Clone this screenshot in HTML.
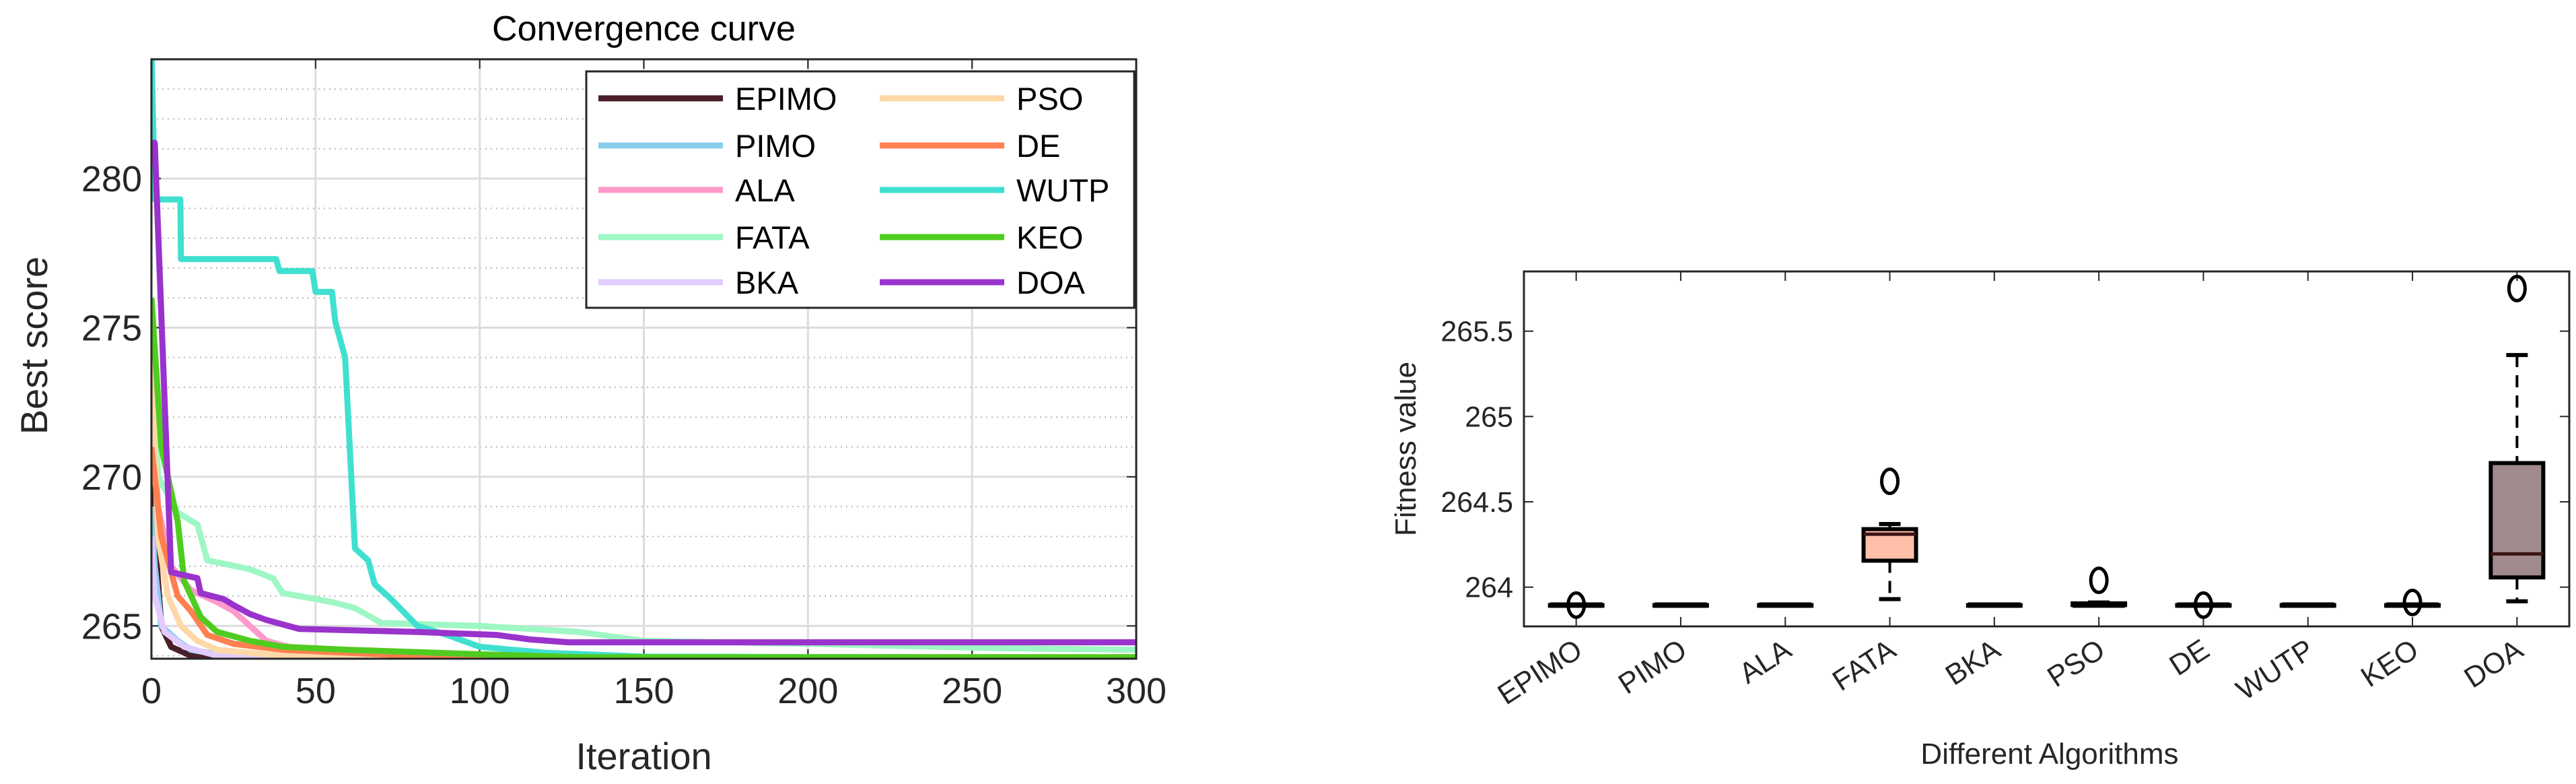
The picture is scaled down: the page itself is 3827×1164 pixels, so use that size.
<!DOCTYPE html>
<html><head><meta charset="utf-8"><style>
html,body{margin:0;padding:0;background:#fff;}
svg{display:block;font-family:"Liberation Sans",Arial,sans-serif;}
</style></head><body>
<svg id="fig" width="3827" height="1164" viewBox="0 0 3827 1164" xmlns="http://www.w3.org/2000/svg">
<rect width="3827" height="1164" fill="#fff"/>
<defs><clipPath id="clipL"><rect x="225" y="88" width="1463" height="890"/></clipPath></defs>
<g id="left"></g>
<g id="right"></g>
</svg>
<script>
// ---- Convergence data ----
const convNames = ["EPIMO","PIMO","ALA","FATA","BKA","PSO","DE","WUTP","KEO","DOA"];
const convColors = ["#4a1f2a","#88ccee","#ff99cc","#9ef7c4","#e2cbff","#ffd8a8","#ff8050","#40e0d0","#50cc20","#9933cc"];
const iterEPIMO = [0,1,3,6,12,20,50,300];
const valEPIMO  = [272.3,268,265,264.3,264.0,263.92,263.9,263.9];
const iterPIMO = [0,1,3,8,12,25,50,300];
const valPIMO  = [269,267,265,264.5,264.2,263.95,263.9,263.9];
const iterALA = [0,2,6,12,20,25,30,35,45,70,120,300];
const valALA  = [273,269,267,266.2,265.8,265.5,265.0,264.5,264.2,264.0,263.93,263.93];
const iterFATA = [0,2,8,14,17,30,37,40,55,62,70,100,130,150,200,260,300];
const valFATA  = [276,270,268.8,268.4,267.2,266.9,266.6,266.1,265.8,265.6,265.1,265.0,264.8,264.5,264.4,264.25,264.2];
const iterBKA = [0,1,4,10,20,40,300];
const valBKA  = [268,266,264.8,264.3,264.0,263.9,263.9];
const iterPSO = [0,2,5,9,14,20,40,80,300];
const valPSO  = [274,268,266,265,264.5,264.2,264.0,263.93,263.93];
const iterDE = [0,3,8,12,17,25,40,60,80,120,300];
const valDE  = [271,268,266,265.5,264.7,264.4,264.2,264.1,264.0,263.95,263.95];
const iterWUTP = [0,1,8.8,9,38,39,49,50,55,56,59,62,66,68,73,81,90,100,120,150,300];
const valWUTP  = [284.5,279.3,279.3,277.3,277.3,276.9,276.9,276.2,276.2,275.2,274.0,267.6,267.2,266.4,265.9,265.0,264.7,264.3,264.1,263.97,263.93];
const iterKEO = [0,3,8,10,15,20,30,40,60,100,130,300];
const valKEO  = [276,271,268.5,266.5,265.3,264.8,264.5,264.3,264.2,264.05,263.95,263.95];
const iterDOA = [0,1,6,14,15,22,25,30,35,45,80,105,115,127,300];
const valDOA  = [281.2,281.2,266.8,266.6,266.1,265.9,265.7,265.4,265.2,264.9,264.8,264.7,264.55,264.45,264.45];
const convIters = [iterEPIMO,iterPIMO,iterALA,iterFATA,iterBKA,iterPSO,iterDE,iterWUTP,iterKEO,iterDOA];
const convVals = [valEPIMO,valPIMO,valALA,valFATA,valBKA,valPSO,valDE,valWUTP,valKEO,valDOA];
const xTicksL = [0,50,100,150,200,250,300];
const yTicksL = [265,270,275,280];

// ---- Boxplot data ----
const boxCats = ["EPIMO","PIMO","ALA","FATA","BKA","PSO","DE","WUTP","KEO","DOA"];
const boxQ1   = [263.895,263.895,263.895,264.155,263.895,263.895,263.895,263.895,263.895,264.057];
const boxMed  = [263.895,263.895,263.895,264.31,263.895,263.895,263.895,263.895,263.895,264.195];
const boxQ3   = [263.895,263.895,263.895,264.34,263.895,263.905,263.895,263.895,263.895,264.727];
const boxLo   = [263.895,263.895,263.895,263.93,263.895,263.895,263.895,263.895,263.895,263.917];
const boxHi   = [263.895,263.895,263.895,264.37,263.895,263.91,263.895,263.895,263.895,265.36];
const boxOut  = [[263.895],[],[],[264.62],[],[264.04],[263.895],[],[263.91],[265.75]];
const boxColors = ["#fff","#fff","#fff","#ffbfa8","#fff","#fff","#fff","#fff","#fff","#a08a8c"];
const yTicksR = [264,264.5,265,265.5];

const NS="http://www.w3.org/2000/svg";
function mk(parent,tag,attrs,text){const e=document.createElementNS(NS,tag);for(const k in attrs)e.setAttribute(k,attrs[k]);if(text!==undefined)e.textContent=text;parent.appendChild(e);return e;}

// ===== Left chart =====
const L=document.getElementById('left');
const lx0=225,lx1=1688,ly0=88,ly1=978,xmin=0,xmax=300,ymin=263.9,ymax=284;
const sx=v=>lx0+(v-xmin)/(xmax-xmin)*(lx1-lx0);
const sy=v=>ly1-(v-ymin)/(ymax-ymin)*(ly1-ly0);
for(let v=264;v<=284;v++){ if(v%5===0)continue;
 const g=mk(L,'line',{x1:lx0,x2:lx1,y1:sy(v),y2:sy(v),stroke:'#b8b8b8','stroke-width':2,'stroke-dasharray':'2 6'});
 
 }
yTicksL.forEach(v=>{const g=mk(L,'line',{x1:lx0,x2:lx1,y1:sy(v),y2:sy(v),stroke:'#dcdcdc','stroke-width':3});
 
 
 const t=mk(L,'text',{x:lx0-14,y:sy(v)+19,'text-anchor':'end','font-size':54,fill:'#262626'},v);
 
 
 mk(L,'line',{x1:lx0,x2:lx0+14,y1:sy(v),y2:sy(v),stroke:'#262626','stroke-width':2});
 mk(L,'line',{x1:lx1,x2:lx1-14,y1:sy(v),y2:sy(v),stroke:'#262626','stroke-width':2});});
xTicksL.forEach(v=>{const g=mk(L,'line',{x1:sx(v),x2:sx(v),y1:ly0,y2:ly1,stroke:'#dcdcdc','stroke-width':3});
 
 
 const t=mk(L,'text',{x:sx(v),y:ly1+66,'text-anchor':'middle','font-size':54,fill:'#262626'},v);
 
 
 mk(L,'line',{x1:sx(v),x2:sx(v),y1:ly0,y2:ly0+14,stroke:'#262626','stroke-width':2});
 mk(L,'line',{x1:sx(v),x2:sx(v),y1:ly1,y2:ly1-14,stroke:'#262626','stroke-width':2});});
const lines=mk(L,'g',{'clip-path':'url(#clipL)'});
convNames.forEach((n,i)=>{
 const pts=convIters[i].map((it,j)=>sx(it)+','+sy(convVals[i][j])).join(' ');
 const p=mk(lines,'polyline',{points:pts,fill:'none',stroke:convColors[i],'stroke-width':9,'stroke-linejoin':'round'});
 
 });
const frame=mk(L,'rect',{x:lx0,y:ly0,width:lx1-lx0,height:ly1-ly0,fill:'none',stroke:'#262626','stroke-width':3});


const tt=mk(L,'text',{x:(lx0+lx1)/2,y:60,'text-anchor':'middle','font-size':52,fill:'#000'},'Convergence curve');


const xl=mk(L,'text',{x:(lx0+lx1)/2,y:1142,'text-anchor':'middle','font-size':56,fill:'#262626'},'Iteration');


const yl=mk(L,'text',{x:0,y:0,'text-anchor':'middle','font-size':56,fill:'#262626',transform:'translate(70,'+((ly0+ly1)/2-20)+') rotate(-90)'},'Best score');


const lg=mk(L,'g',{});


mk(lg,'rect',{x:871,y:106,width:814,height:351,fill:'#fff',stroke:'#262626','stroke-width':3});
const rowsY=[146,216,282,352,419];
convNames.forEach((n,i)=>{const col=Math.floor(i/5),row=i%5;
 const lx=col?1307:889, ty=rowsY[row];
 const e=mk(lg,'g',{});
 
 
 mk(e,'line',{x1:lx,x2:lx+185,y1:ty,y2:ty,stroke:convColors[i],'stroke-width':9});
 mk(e,'text',{x:lx+203,y:ty+17,'font-size':47,fill:'#000'},n);});

// ===== Right chart =====
const R=document.getElementById('right');
const rx0=2264,rx1=3817,ry0=403,ry1=930,rymin=263.77,rymax=265.85;
const bx=i=>rx0+(i+0.5)/boxCats.length*(rx1-rx0);
const by=v=>ry1-(v-rymin)/(rymax-rymin)*(ry1-ry0);
const rf=mk(R,'rect',{x:rx0,y:ry0,width:rx1-rx0,height:ry1-ry0,fill:'#fff',stroke:'#262626','stroke-width':3});


yTicksR.forEach(v=>{mk(R,'line',{x1:rx0,x2:rx0+14,y1:by(v),y2:by(v),stroke:'#262626','stroke-width':2});
 mk(R,'line',{x1:rx1,x2:rx1-14,y1:by(v),y2:by(v),stroke:'#262626','stroke-width':2});
 const t=mk(R,'text',{x:rx0-16,y:by(v)+15,'text-anchor':'end','font-size':43,fill:'#262626'},v);
 
 });
boxCats.forEach((c,i)=>{const x=bx(i);
 mk(R,'line',{x1:x,x2:x,y1:ry0,y2:ry0+14,stroke:'#262626','stroke-width':2});
 mk(R,'line',{x1:x,x2:x,y1:ry1,y2:ry1-14,stroke:'#262626','stroke-width':2});
 const t=mk(R,'text',{x:0,y:0,'text-anchor':'end','font-size':43,fill:'#262626',transform:'translate('+(x+12)+','+(ry1+42)+') rotate(-33)'},c);
 
 
 const g=mk(R,'g',{});
 
 
 const hw=39,cw=16;
 mk(g,'line',{x1:x,x2:x,y1:by(boxHi[i]),y2:by(boxQ3[i]),stroke:'#000','stroke-width':4,'stroke-dasharray':'18 12'});
 mk(g,'line',{x1:x,x2:x,y1:by(boxQ1[i]),y2:by(boxLo[i]),stroke:'#000','stroke-width':4,'stroke-dasharray':'18 12'});
 mk(g,'line',{x1:x-cw,x2:x+cw,y1:by(boxHi[i]),y2:by(boxHi[i]),stroke:'#000','stroke-width':6});
 mk(g,'line',{x1:x-cw,x2:x+cw,y1:by(boxLo[i]),y2:by(boxLo[i]),stroke:'#000','stroke-width':6});
 const h=Math.max(by(boxQ1[i])-by(boxQ3[i]),1);
 mk(g,'rect',{x:x-hw,y:by(boxQ3[i]),width:2*hw,height:h,fill:boxColors[i],stroke:'#000','stroke-width':6});
 mk(g,'line',{x1:x-hw,x2:x+hw,y1:by(boxMed[i]),y2:by(boxMed[i]),stroke:h<4?'#000':'#3a1414','stroke-width':h<4?8:5});
 boxOut[i].forEach(o=>{mk(g,'ellipse',{cx:x,cy:by(o),rx:12,ry:18,fill:'none',stroke:'#000','stroke-width':5});});});
const ry=mk(R,'text',{x:0,y:0,'text-anchor':'middle','font-size':44,fill:'#262626',transform:'translate(2103,'+((ry0+ry1)/2)+') rotate(-90)'},'Fitness value');


const rx=mk(R,'text',{x:3045,y:1134,'text-anchor':'middle','font-size':44,fill:'#262626'},'Different Algorithms');


</script>
</body></html>
